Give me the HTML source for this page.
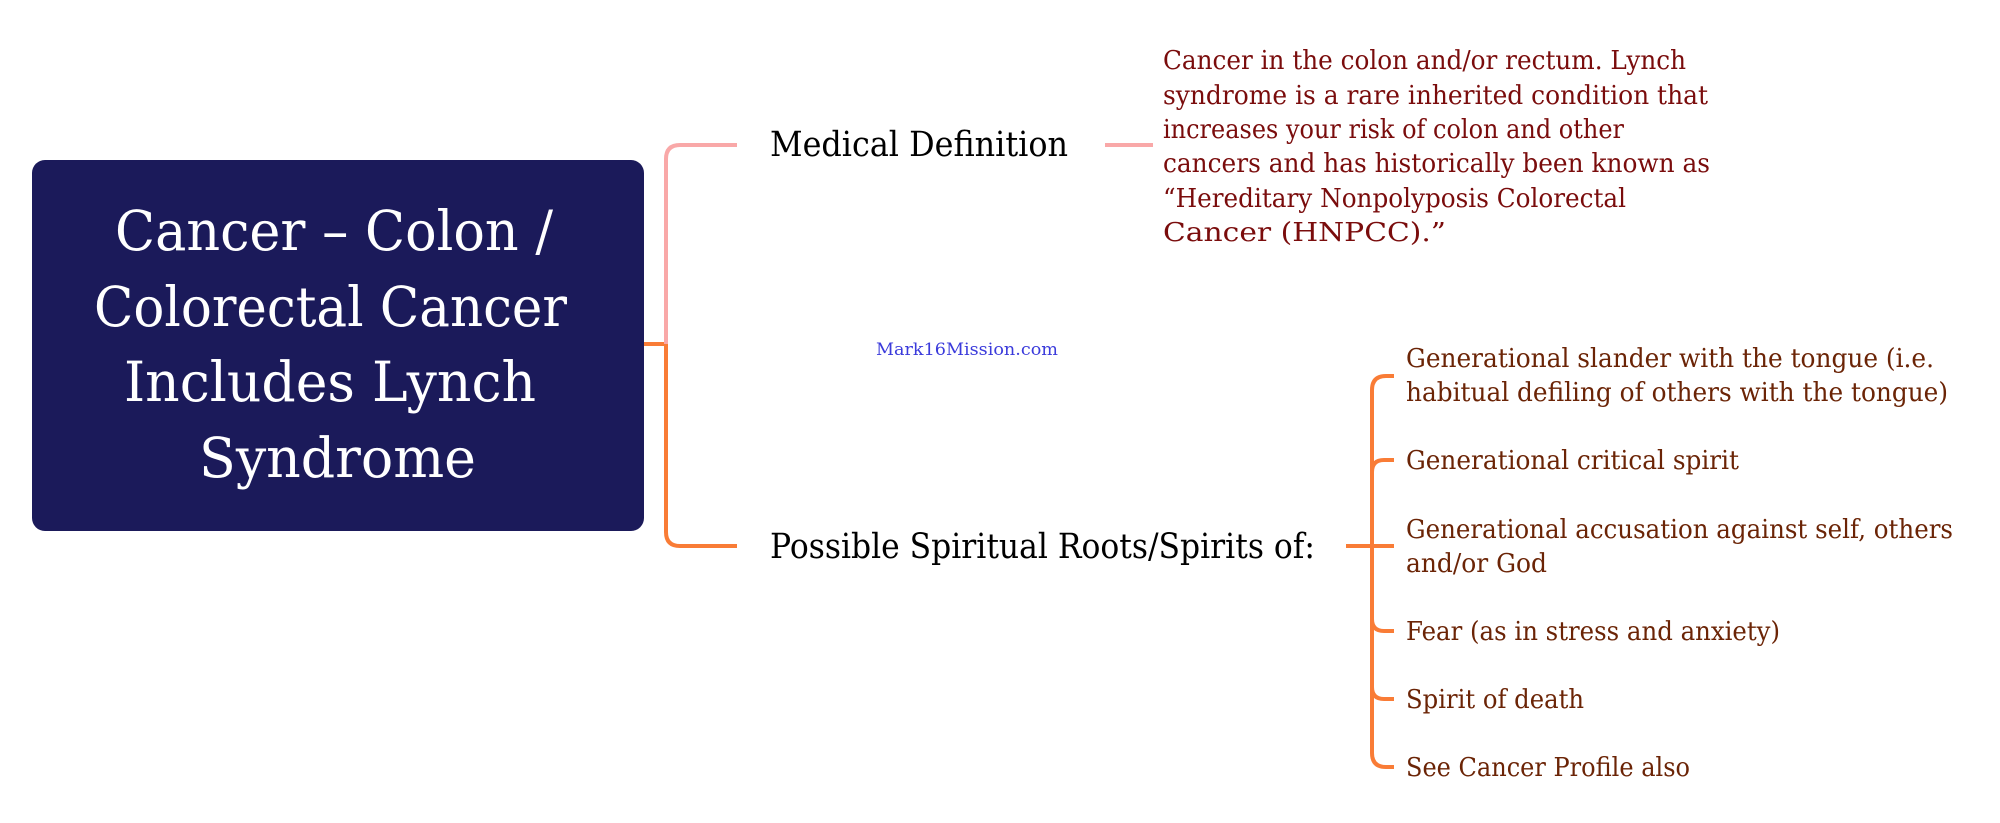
<!DOCTYPE html>
<html><head><meta charset="utf-8"><style>
html,body{margin:0;padding:0;background:#fff;width:2000px;height:823px;overflow:hidden}
svg text{font-family:"DejaVu Serif","Liberation Serif",serif}
</style></head><body>
<svg width="2000" height="823" xmlns="http://www.w3.org/2000/svg">
<rect x="32" y="160" width="612" height="371" rx="13" fill="#1b1a5a"/>
<g fill="#fff" font-size="55">
<text x="115" y="250" textLength="438" lengthAdjust="spacingAndGlyphs">Cancer – Colon /</text>
<text x="94" y="326" textLength="473" lengthAdjust="spacingAndGlyphs">Colorectal Cancer</text>
<text x="124" y="401" textLength="412" lengthAdjust="spacingAndGlyphs">Includes Lynch</text>
<text x="199" y="477" textLength="277" lengthAdjust="spacingAndGlyphs">Syndrome</text>
</g>
<path d="M644 344 H666" stroke="#f97c36" stroke-width="4" fill="none"/>
<path d="M737 145 H680 Q666 145 666 159 V344" stroke="#f9a8a8" stroke-width="4" fill="none"/>
<path d="M666 344 V532 Q666 546 680 546 H737" stroke="#f97c36" stroke-width="4" fill="none"/>
<path d="M1105 145 H1153" stroke="#f9a8a8" stroke-width="4" fill="none"/>
<g fill="#000" font-size="35">
<text x="770" y="156" textLength="298" lengthAdjust="spacingAndGlyphs">Medical Definition</text>
<text x="770" y="558" textLength="545" lengthAdjust="spacingAndGlyphs">Possible Spiritual Roots/Spirits of:</text>
</g>
<text x="876" y="355" font-size="17" fill="#3b3bdb" textLength="182" lengthAdjust="spacingAndGlyphs">Mark16Mission.com</text>
<g fill="#7a0c0c" font-size="26">
<text x="1163" y="69" textLength="523" lengthAdjust="spacingAndGlyphs">Cancer in the colon and/or rectum. Lynch</text>
<text x="1163" y="104" textLength="545" lengthAdjust="spacingAndGlyphs">syndrome is a rare inherited condition that</text>
<text x="1163" y="138" textLength="461" lengthAdjust="spacingAndGlyphs">increases your risk of colon and other</text>
<text x="1163" y="172" textLength="547" lengthAdjust="spacingAndGlyphs">cancers and has historically been known as</text>
<text x="1163" y="207" textLength="463" lengthAdjust="spacingAndGlyphs">“Hereditary Nonpolyposis Colorectal</text>
<text x="1163" y="241" textLength="283" lengthAdjust="spacingAndGlyphs">Cancer (HNPCC).”</text>
</g>
<g stroke="#f97c36" stroke-width="4" fill="none">
<path d="M1346 546 H1372"/>
<path d="M1394 376 H1386 Q1372 376 1372 390 V753 Q1372 767 1386 767 H1394"/>
<path d="M1372 472 Q1372 460 1384 460 H1394"/>
<path d="M1372 546 H1394"/>
<path d="M1372 619 Q1372 631 1384 631 H1394"/>
<path d="M1372 687 Q1372 699 1384 699 H1394"/>
</g>
<g fill="#6b2406" font-size="26">
<text x="1406" y="367" textLength="528" lengthAdjust="spacingAndGlyphs">Generational slander with the tongue (i.e.</text>
<text x="1406" y="401" textLength="542" lengthAdjust="spacingAndGlyphs">habitual defiling of others with the tongue)</text>
<text x="1406" y="469" textLength="333" lengthAdjust="spacingAndGlyphs">Generational critical spirit</text>
<text x="1406" y="538" textLength="547" lengthAdjust="spacingAndGlyphs">Generational accusation against self, others</text>
<text x="1406" y="572" textLength="141" lengthAdjust="spacingAndGlyphs">and/or God</text>
<text x="1406" y="640" textLength="374" lengthAdjust="spacingAndGlyphs">Fear (as in stress and anxiety)</text>
<text x="1406" y="708" textLength="178" lengthAdjust="spacingAndGlyphs">Spirit of death</text>
<text x="1406" y="776" textLength="284" lengthAdjust="spacingAndGlyphs">See Cancer Profile also</text>
</g>
</svg>
</body></html>
